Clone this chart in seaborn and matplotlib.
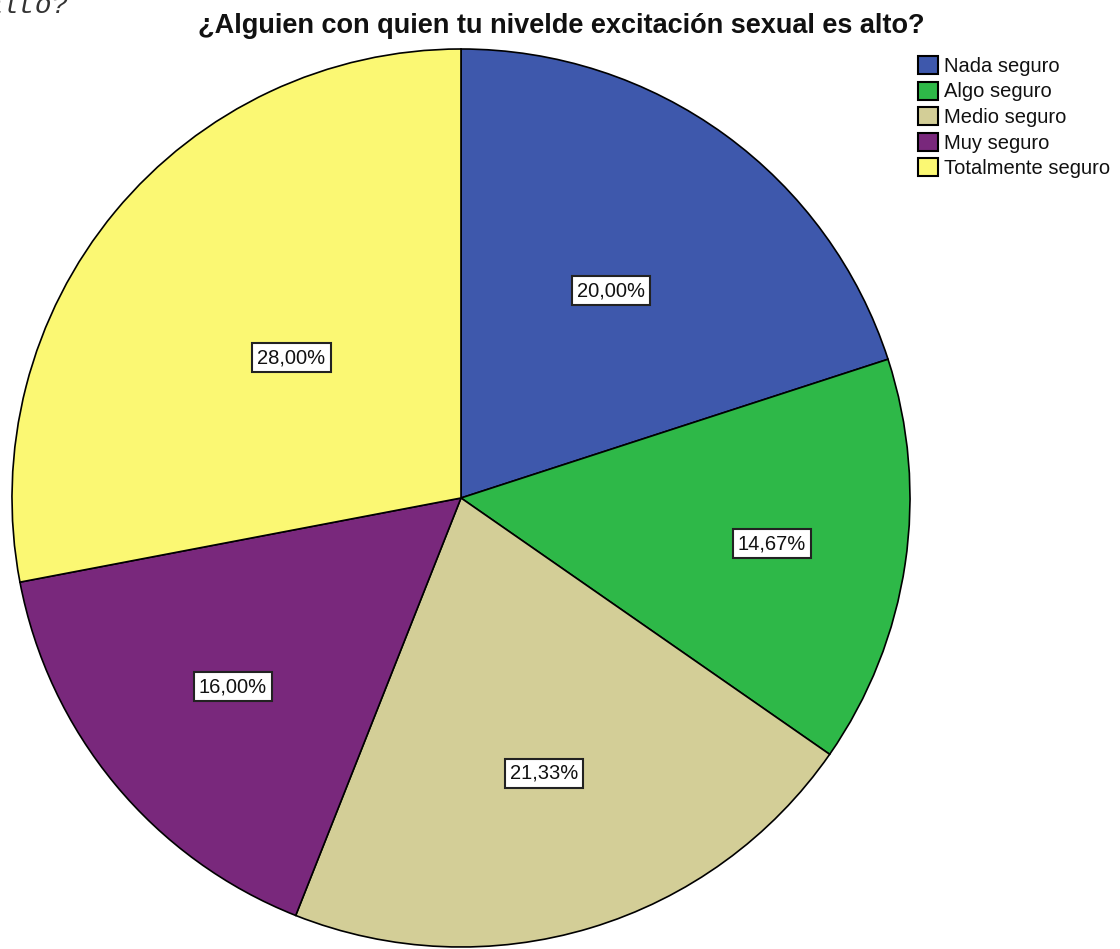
import numpy as np
import matplotlib
matplotlib.use("Agg")
import matplotlib.pyplot as plt
import seaborn as sns

categories = ["Nada seguro", "Algo seguro", "Medio seguro", "Muy seguro", "Totalmente seguro"]
percentages = [20.00, 14.67, 21.33, 16.00, 28.00]
colors = ["#3E58AC", "#2EB848", "#D3CE97", "#79287C", "#FBF873"]
title = "¿Alguien con quien tu nivelde excitación sexual es alto?"

sns.set_theme(style="white")
plt.rcParams["font.family"] = ["Liberation Sans", "DejaVu Sans"]

W, H = 1120, 949
fig = plt.figure(figsize=(W / 100, H / 100), dpi=100)
ax = fig.add_axes([0, 0, 1, 1])

cx, cy, r = 461, H - 498, 449
wedges, _ = ax.pie(
    percentages, colors=sns.color_palette(colors), startangle=90, counterclock=False,
    center=(cx, cy), radius=r, frame=True,
    wedgeprops=dict(edgecolor="black", linewidth=1.2),
)
ax.set_xlim(0, W)
ax.set_ylim(0, H)
ax.set_aspect("equal")
ax.axis("off")

# label distance along each wedge's bisector, as fraction of radius
label_dist = [0.57, 0.70, 0.64, 0.66, 0.49]
for w, p, d in zip(wedges, percentages, label_dist):
    ang = np.deg2rad((w.theta1 + w.theta2) / 2)
    ax.text(cx + d * r * np.cos(ang), cy + d * r * np.sin(ang),
            f"{p:.2f}%".replace(".", ","), ha="center", va="center", fontsize=14.5,
            color="#111111",
            bbox=dict(boxstyle="square,pad=0.25", facecolor="white", edgecolor="#222222", linewidth=1.5))

fig.text(561 / W, 1 - 33 / H, title, ha="center", va="baseline", fontsize=19.5,
         fontweight="bold", color="#111111")

fig.text(68 / W, 1 - 13 / H, "alto?", ha="right", va="baseline", fontsize=20,
         family=["Liberation Mono", "DejaVu Sans Mono"], style="italic", color="#333333")

handles = [plt.Rectangle((0, 0), 1, 1, facecolor=c, edgecolor="black", linewidth=1.5) for c in colors]
fig.legend(handles, categories, loc="upper left", bbox_to_anchor=(918 / W, 1 - 56 / H),
           frameon=False, fontsize=14.5, handlelength=1.0, handleheight=1.0,
           handletextpad=0.3, labelspacing=0.28, borderaxespad=0, borderpad=0,
           labelcolor="#111111")

fig.savefig("out.png", dpi=100)
